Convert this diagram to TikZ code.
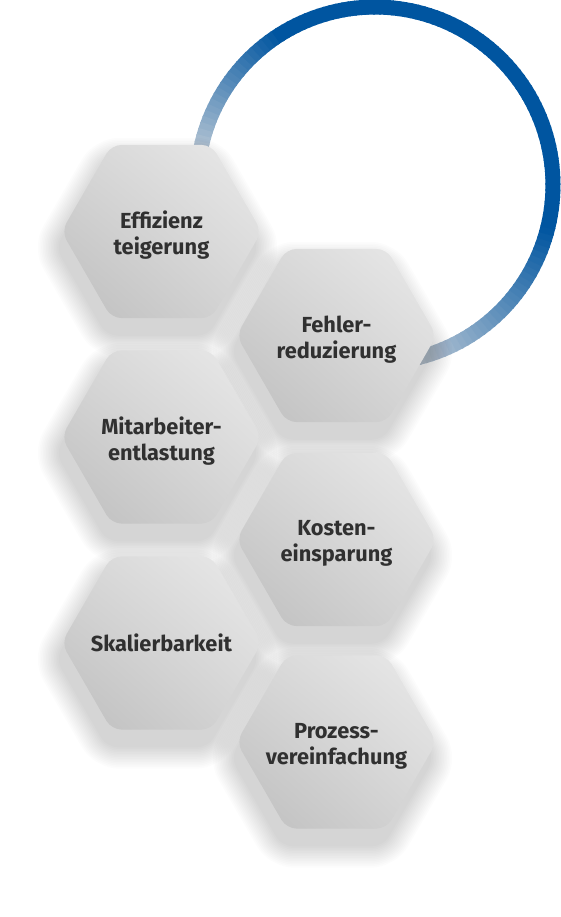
\documentclass[tikz,border=0pt]{standalone}
\usepackage{fontspec}
\usetikzlibrary{shadings}
\setmainfont{Fira Sans}
\definecolor{arcblue}{RGB}{0,85,160}
\definecolor{arcpale}{RGB}{196,206,216}
\definecolor{hexlight}{RGB}{234,234,234}
\definecolor{hexmid}{RGB}{214,214,214}
\definecolor{hexdark}{RGB}{190,190,190}
\definecolor{textdark}{RGB}{48,48,48}
\tikzset{
  hexlabel/.style={font=\bfseries\fontsize{21.8}{26}\selectfont, text=textdark, align=center},
}
\newcommand{\hexcell}[5]{%
  % shadow
  \foreach \i in {1,...,14}{
    \fill[black, opacity=0.013, shift={(#2-4,#3+16)}, rounded corners={10pt+\i pt}]
      (0:{100+1.9*\i}) -- (60:{100+1.9*\i}) -- (120:{100+1.9*\i}) -- (180:{100+1.9*\i}) -- (240:{100+1.9*\i}) -- (300:{100+1.9*\i}) -- cycle;
  }
  \shade[shift={(#2,#3)}, rounded corners=10pt, upper right=hexlight, lower left=hexdark, upper left=hexmid, lower right=hexmid]
    (0:100) -- (60:100) -- (120:100) -- (180:100) -- (240:100) -- (300:100) -- cycle;
  \node[hexlabel] (#1) at (#2,#3+#5) {#4};
}
\begin{document}
\begin{tikzpicture}[x=1pt,y=-1pt]
\useasboundingbox (0,0) rectangle (561,917);
% gradient ring
\foreach \a in {-92,-90,...,178}{
  \pgfmathsetmacro\t{100*min(1,max(0,min((172-\a)/50,(\a+80)/65)))}
  \colorlet{segc}{arcblue!\t!arcpale}
  \draw[line width=15pt, segc, line cap=butt]
    ({375+178*cos(\a)},{185-178*sin(\a)}) -- ({375+178*cos(\a+2.6)},{185-178*sin(\a+2.6)});
}
\hexcell{eff}{161.5}{231.5}{Effizienz\\teigerung}{4}
\hexcell{feh}{336.5}{335.5}{Fehler-\\reduzierung}{4}
\hexcell{mit}{161.5}{437}{Mitarbeiter-\\entlastung}{4}
\hexcell{kos}{336.5}{539.5}{Kosten-\\einsparung}{4}
\hexcell{ska}{161.5}{643}{Skalierbarkeit}{0}
\hexcell{pro}{336.5}{742}{Prozess-\\vereinfachung}{4}
\end{tikzpicture}
\end{document}
